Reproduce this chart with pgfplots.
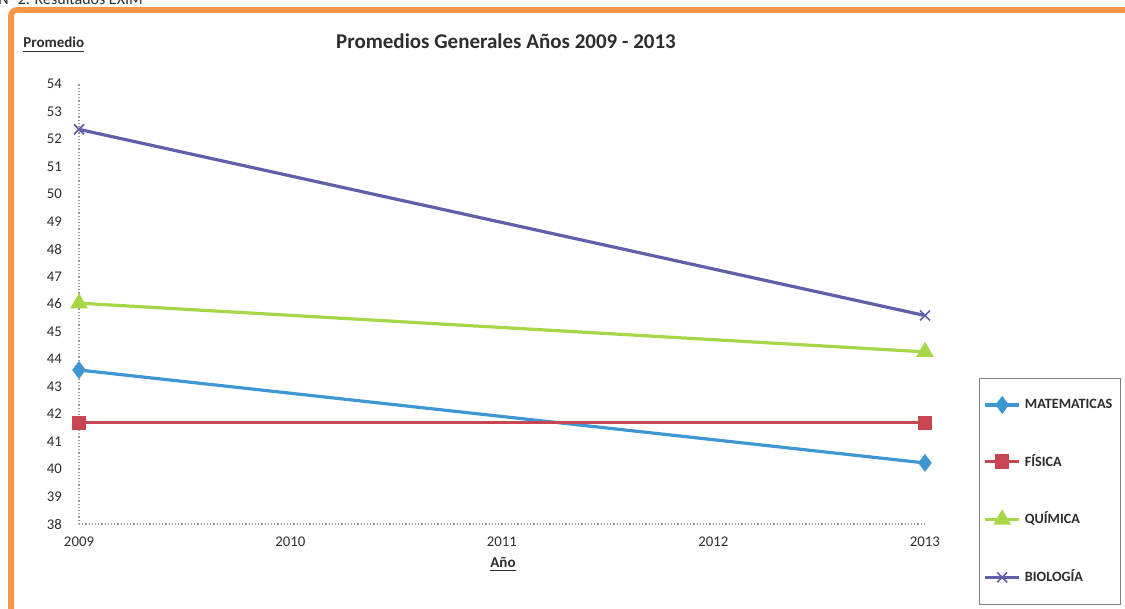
\documentclass[border=0pt]{standalone}
\usepackage{fontspec}
\setmainfont{Carlito}
\usepackage{pgfplots}
\pgfplotsset{compat=1.18}
\definecolor{marco}{RGB}{247,150,70}
\definecolor{mat}{RGB}{62,150,210}
\definecolor{fis}{RGB}{200,70,80}
\definecolor{qui}{RGB}{165,215,70}
\definecolor{bio}{RGB}{95,95,170}
\definecolor{texto}{RGB}{45,45,45}

\begin{document}
\begin{tikzpicture}
% marco y textos sueltos, en pixeles de la imagen
\begin{scope}[x=0.5pt,y=-0.5pt]
\useasboundingbox (0,0) rectangle (1125,609);
\clip (0,0) rectangle (1125,609);
\draw[marco, line width=2.9pt, rounded corners=3pt] (11,10) rectangle (1160,660);
\node[anchor=base west, inner sep=0, text=texto, font=\fontsize{8}{9}\selectfont] at (-2,4.5) {N° 2. Resultados EXIM};
\node[anchor=base west, inner sep=0, text=texto, font=\bfseries\fontsize{7.5}{9}\selectfont] at (23,48) {\underline{Promedio}};
\node[anchor=base, inner sep=0, text=texto, font=\bfseries\fontsize{10.5}{12}\selectfont] at (506,49) {Promedios Generales Años 2009 - 2013};
\node[anchor=base, inner sep=0, text=texto, font=\bfseries\fontsize{7.5}{9}\selectfont] at (503,567) {\underline{Año}};
\end{scope}

\begin{axis}[
  at={(39.5pt,-262pt)}, anchor=south west,
  scale only axis, width=423pt, height=220pt,
  xmin=2009, xmax=2013, ymin=38, ymax=54,
  xtick={2009,...,2013}, ytick={38,...,54},
  axis lines*=left,
  axis line style={gray!80, densely dotted, line width=0.6pt, -},
  major tick length=0pt,
  tick label style={font=\fontsize{7.4}{8}\selectfont, text=texto},
  /pgf/number format/assume math mode=true,
  /pgf/number format/1000 sep={},
  yticklabel style={xshift=-5pt},
  xticklabel style={yshift=-3pt},
  clip=false,
  legend cell align=left,
  legend style={at={(1.064,0.331)}, anchor=north west, draw=gray,
    font=\bfseries\fontsize{7.1}{8}\selectfont, text=texto,
    row sep=17.5pt, inner xsep=2pt, inner ysep=8pt},
]
\addplot[mat, line width=1.6pt, mark=diamond*, mark size=3.2pt] coordinates {(2009,43.6) (2013,40.22)};
\addplot[fis, line width=1.6pt, mark=square*, mark size=2.8pt] coordinates {(2009,41.68) (2013,41.68)};
\addplot[qui, line width=1.6pt, mark=triangle*, mark size=3.5pt] coordinates {(2009,46.03) (2013,44.26)};
\addplot[bio, line width=1.6pt, mark=x, mark size=3.5pt, mark options={line width=0.8pt}] coordinates {(2009,52.35) (2013,45.58)};
\legend{MATEMATICAS, FÍSICA, QUÍMICA, BIOLOGÍA}
\end{axis}
\end{tikzpicture}
\end{document}
